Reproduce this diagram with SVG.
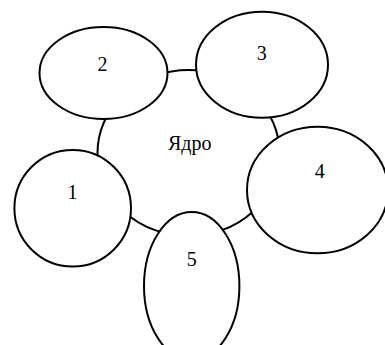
<svg xmlns="http://www.w3.org/2000/svg" width="385" height="345" viewBox="0 0 385 345">
<style>
.n{fill:#fff;stroke:#000;stroke-width:2}
.t{font-family:"Liberation Serif","Times New Roman",serif;font-size:20px;fill:#000;text-anchor:middle}
</style>
<rect width="385" height="345" fill="#fff"/>
<g id="core"><ellipse class="n" cx="188.5" cy="153" rx="91" ry="83"/><text class="t" x="189.8" y="150">Ядро</text></g>
<g id="connectors"></g>
<g id="n1"><circle class="n" cx="72.7" cy="208.3" r="58.3"/><text class="t" x="72.5" y="199.3">1</text></g>
<g id="n2"><ellipse class="n" cx="103.5" cy="73" rx="64" ry="46"/><text class="t" x="102.5" y="70.8">2</text></g>
<g id="n3"><ellipse class="n" cx="262" cy="64.7" rx="66" ry="53"/><text class="t" x="261.7" y="59.5">3</text></g>
<g id="n4"><ellipse class="n" cx="317.5" cy="190" rx="70.5" ry="63.3"/><text class="t" x="319.7" y="177.5">4</text></g>
<g id="n5"><ellipse class="n" cx="191.7" cy="286" rx="47.7" ry="74"/><text class="t" x="191.7" y="265.5">5</text></g>
</svg>
